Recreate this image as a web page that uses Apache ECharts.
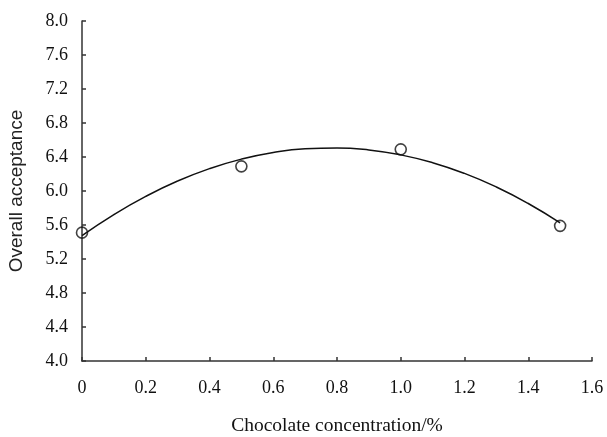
<!DOCTYPE html>
<html>
<head>
<meta charset="utf-8">
<script src="https://cdn.jsdelivr.net/npm/echarts@6/dist/echarts.min.js"></script>
<style>html,body{margin:0;padding:0;background:#fff;}#c{width:607px;height:437px;}</style>
</head>
<body>
<div id="c"></div>
<script>
// Measured points
var concX = [0, 0.5, 1.0, 1.5];
var acceptY = [5.51, 6.29, 6.49, 5.59];
// Trend curve
var curveX = [0, 0.1, 0.2, 0.3, 0.4, 0.5, 0.6, 0.7, 0.8, 0.9, 1.0, 1.1, 1.2, 1.3, 1.4, 1.5];
var curveY = [5.475, 5.723, 5.937, 6.117, 6.263, 6.375, 6.453, 6.497, 6.507, 6.483, 6.425, 6.333, 6.207, 6.047, 5.853, 5.625];
var xTitle = 'Chocolate concentration/%';
var yTitle = 'Overall acceptance';

var serif = 'Liberation Serif, Times New Roman, serif';
var sans = 'Liberation Sans, Arial, sans-serif';
var chart = echarts.init(document.getElementById('c'), null, {renderer: 'canvas'});
chart.setOption({
  animation: false,
  backgroundColor: '#fff',
  grid: {left: 82, right: 15, top: 21, bottom: 76, containLabel: false, outerBoundsMode: 'none'},
  xAxis: {
    type: 'value', min: 0, max: 1.6, interval: 0.2,
    name: xTitle, nameLocation: 'middle', nameGap: 55,
    nameTextStyle: {fontFamily: serif, fontSize: 19.5, color: '#111'},
    axisLine: {show: true, lineStyle: {color: '#333', width: 1.5}},
    axisTick: {show: true, inside: true, length: 4, lineStyle: {color: '#333', width: 1.5}},
    axisLabel: {fontFamily: serif, fontSize: 18, color: '#111', margin: 18,
      formatter: function (v) { return v === 0 ? '0' : v.toFixed(1); }},
    splitLine: {show: false}
  },
  yAxis: {
    type: 'value', min: 4.0, max: 8.0, interval: 0.4,
    name: yTitle, nameLocation: 'middle', nameGap: 56, nameRotate: 90,
    nameTextStyle: {fontFamily: sans, fontSize: 19, color: '#222'},
    axisLine: {show: true, lineStyle: {color: '#333', width: 1.5}},
    axisTick: {show: true, inside: true, length: 4, lineStyle: {color: '#333', width: 1.5}},
    axisLabel: {fontFamily: serif, fontSize: 18, color: '#111', margin: 14,
      formatter: function (v) { return v.toFixed(1); }},
    splitLine: {show: false}
  },
  series: [
    {
      type: 'line', smooth: true, showSymbol: false, symbol: 'none',
      data: curveX.map(function (x, i) { return [x, curveY[i]]; }),
      lineStyle: {color: '#111', width: 1.5}, z: 2
    },
    {
      type: 'scatter', symbol: 'circle', symbolSize: 11,
      data: concX.map(function (x, i) { return [x, acceptY[i]]; }),
      itemStyle: {color: 'rgba(255,255,255,0)', borderColor: '#111', borderWidth: 1.6}, z: 3
    }
  ]
});
</script>
</body>
</html>
